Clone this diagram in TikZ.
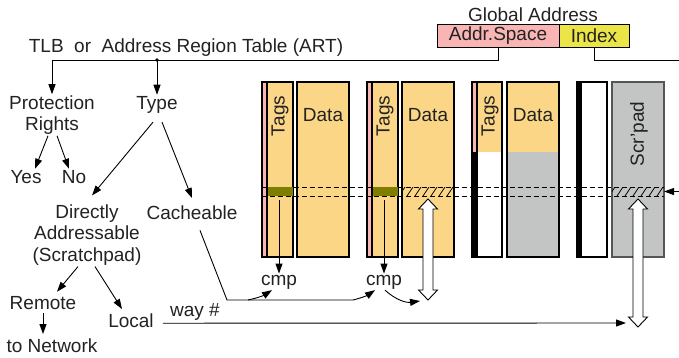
\documentclass[tikz,border=0pt]{standalone}
\usepackage{fontspec}
\setmainfont{Liberation Sans}
\usetikzlibrary{arrows.meta}

\definecolor{txt}{HTML}{222222}
\definecolor{softedge}{HTML}{555555}
\definecolor{tagpink}{HTML}{F9B4B4}
\definecolor{datayel}{HTML}{FBD686}
\definecolor{idxyel}{HTML}{ECE548}
\definecolor{padgray}{HTML}{C3C4C4}
\definecolor{tagolive}{HTML}{7E7E00}

% hatched row inside a data box
\newcommand\hatchrow[2]{%
  \begin{scope}
    \clip (#1,187) rectangle (#2,196);
    \foreach \h in {0,8,...,56}
      \draw[line width=0.8pt] ({#1+\h-3},196) -- ++(6,-9);
  \end{scope}}

% hollow two-headed arrow
\newcommand\dblarrow[3]{%
  \filldraw[fill=white,line width=0.9pt]
    (#1,#2) -- ({#1+9.5},{#2+10}) -- ({#1+5},{#2+10}) -- ({#1+5},{#3-10})
    -- ({#1+9.5},{#3-10}) -- (#1,#3) -- ({#1-9.5},{#3-10}) -- ({#1-5},{#3-10})
    -- ({#1-5},{#2+10}) -- ({#1-9.5},{#2+10}) -- cycle;}

\begin{document}
\begin{tikzpicture}[x=1pt,y=-1pt,
    font=\fontsize{19}{21.5}\selectfont,
    every node/.style={inner sep=1pt,text=txt},
    arr/.style={-{Triangle[length=10pt,width=7pt]},line width=0.9pt},
    boxline/.style={line width=1.2pt}]
  \useasboundingbox (0,0) rectangle (679,357);

  % global address
  \node (glob) at (533,21) [anchor=base] {Global Address};
  \node (addr) at (498,35.5) [draw,line width=1pt,fill=tagpink,minimum width=122pt,minimum height=23pt] {Addr.Space};
  \node (idx) at (594,35.5) [draw,line width=1pt,fill=idxyel,minimum width=70pt,minimum height=23pt] {Index};

  % tree
  \node (tlb) at (186,52) [anchor=base] {TLB\ \ or\ \ Address Region Table (ART)};
  \node (prot) at (52,115) [align=center] {Protection\\Rights};
  \node (type) at (157,109) [anchor=base] {Type};
  \node (yes) at (26,183) [anchor=base] {Yes};
  \node (no) at (74,183) [anchor=base] {No};
  \node (dir) at (87,235) [align=center] {Directly\\Addressable\\(Scratchpad)};
  \node (cach) at (192,219) [anchor=base] {Cacheable};
  \node (rem) at (43,309) [anchor=base] {Remote};
  \node (loc) at (131,327) [anchor=base] {Local};
  \node (net) at (52,352) [anchor=base] {to Network};
  \node (way) at (195,316) [anchor=base] {way \#};

  \coordinate (split) at (157,60);
  \coordinate (rout) at (679,60);
  \draw[arr] (addr.south) -- ++(0,13) -| (prot.north);
  \draw[line width=0.9pt] (idx.south) |- (rout);
  \fill (split) circle (1.8pt);
  \draw[arr] (split) -- (type.north);
  \draw[arr] ([xshift=-4pt]prot.south) -- ([xshift=9pt]yes.north);
  \draw[arr] ([xshift=5pt]prot.south) -- ([xshift=-5pt]no.north);
  \draw[arr] ([shift={(-4pt,-8pt)}]type.south) -- ([shift={(5pt,8pt)}]dir.north);
  \draw[arr] ([shift={(5pt,-8pt)}]type.south) -- ([yshift=6pt]cach.north);
  \draw[arr] ([xshift=-9pt]dir.south) -- ([shift={(14pt,3pt)}]rem.north);
  \draw[arr] ([xshift=8pt]dir.south) -- ([shift={(-9pt,3pt)}]loc.north);
  \draw[arr] ([yshift=-3pt]rem.south) -- ([shift={(-9pt,3pt)}]net.north);

  % sets 1 and 2
  \foreach \s in {0,105} {
    \begin{scope}[xshift=\s pt]
      \fill[datayel] (267,82) rectangle (293,257);
      \fill[tagpink] (262,82) rectangle (267,257);
      \fill[datayel] (297,82) rectangle (349,257);
      \draw[boxline] (262,82) rectangle (293,257);
      \draw[boxline] (267,82) -- (267,257);
      \draw[boxline] (297,82) rectangle (349,257);
      \node[rotate=90] at (280,116) {Tags};
      \node at (323,121) [anchor=base] {Data};
    \end{scope}
  }

  % set 3
  \fill[datayel] (477,82) rectangle (502,152);
  \fill[white] (477,152) rectangle (502,257);
  \fill[tagpink] (472,82) rectangle (477,152);
  \fill[black] (472,152) rectangle (477,257);
  \fill[datayel] (507,82) rectangle (559,152);
  \fill[padgray] (507,152) rectangle (559,257);
  \draw[boxline] (472,82) rectangle (502,257);
  \draw[boxline] (477,82) -- (477,257);
  \draw[boxline] (507,82) rectangle (559,257);
  \node[rotate=90] at (490,116) {Tags};
  \node at (533,121) [anchor=base] {Data};

  % set 4
  \fill[black] (577,82) rectangle (582,257);
  \fill[padgray] (612,82) rectangle (664,257);
  \draw[boxline] (577,82) rectangle (607,257);
  \draw[boxline,softedge] (612,82) rectangle (664,257);
  \node[rotate=90] at (639,134) {Scr'pad};

  % selected row
  \draw[dash pattern=on 5pt off 3pt,line width=0.9pt] (262,187) -- (664,187) (262,196) -- (664,196);
  \fill[tagolive] (267.5,187) rectangle (293,196);
  \fill[tagolive] (372.5,187) rectangle (398,196);
  \hatchrow{402}{454}
  \hatchrow{612}{664}
  \coordinate (rin) at (679,191.5);
  \coordinate (rhit) at (664,191.5);
  \draw[arr] (rin) -- (rhit);

  % compare and way select
  \node (cmpa) at (279,285) [anchor=base] {cmp};
  \node (cmpb) at (384,285) [anchor=base] {cmp};
  \coordinate (taga) at (279,200);
  \coordinate (tagb) at (384,200);
  \draw[arr] (taga) -- (cmpa.north);
  \draw[arr] (tagb) -- (cmpb.north);
  \coordinate (c0) at (227,300);
  \coordinate (c1) at (353,300);
  \coordinate (ca) at (248,300);
  \draw[line width=0.9pt] ([shift={(8pt,-10pt)}]cach.south) -- (c0) -- (c1);
  \draw[arr] (ca) to[bend right=10] ([xshift=-7pt]cmpa.south);
  \draw[arr] (c1) to[bend right=10] ([xshift=-9pt]cmpb.south);
  \coordinate (dsel) at (420,301);
  \draw[arr] ([xshift=1pt]cmpb.south) to[bend right=25] (dsel);
  \dblarrow{428}{199}{300}
  \dblarrow{638}{199}{327}
  \coordinate (wend) at (626,323);
  \draw[arr] ([shift={(8pt,-3pt)}]loc.east) -- (wend);
\end{tikzpicture}
\end{document}
